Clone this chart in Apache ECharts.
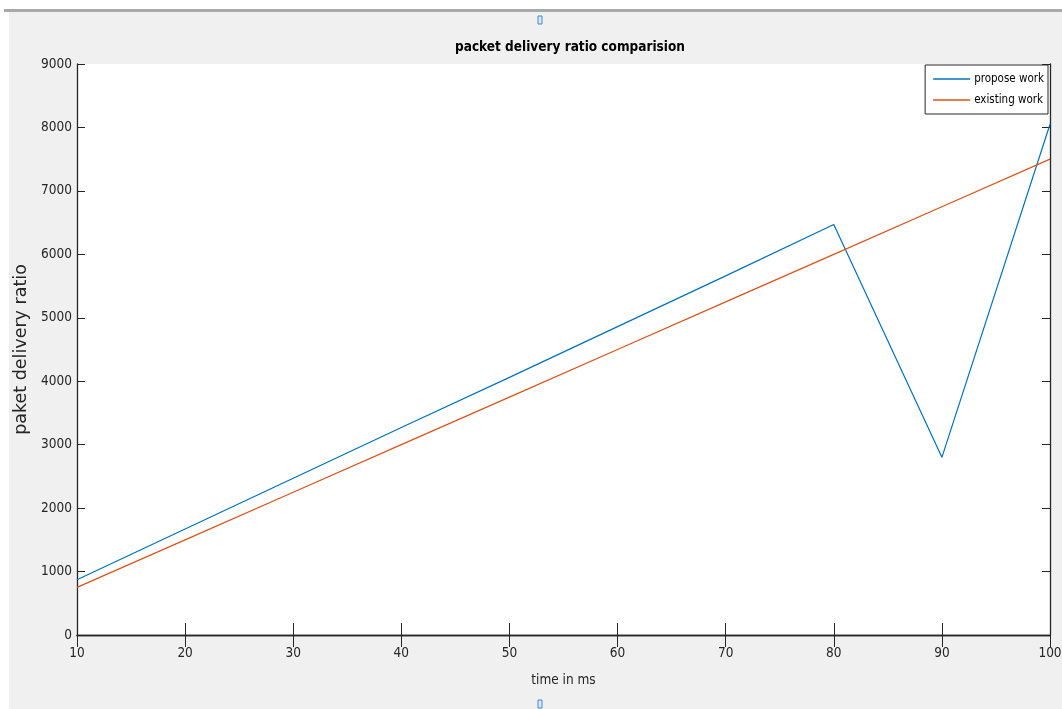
<!DOCTYPE html>
<html>
<head>
<meta charset="utf-8">
<script src="https://cdn.jsdelivr.net/npm/echarts@6/dist/echarts.min.js"></script>
<style>
	html, body { margin: 0; padding: 0; background: #fff; }
	#chart { width: 1062px; height: 709px; }
</style>
</head>
<body>
<div id="chart"></div>
<script>
	// time in ms
	var timeMs = [10, 20, 30, 40, 50, 60, 70, 80, 90, 100];
	/* propose work */
	var proposeWork = [870, 1670, 2470, 3270, 4060, 4860, 5660, 6470, 2800, 8050];
	/* existing work */
	var existingWork = [750, 1500, 2250, 3000, 3750, 4500, 5250, 6000, 6750, 7500];

	var cond = '"DejaVu Sans Condensed", "Liberation Sans Narrow", "Liberation Sans", sans-serif';
	var axisColor = '#262626';

	function pairs(ys) {
		return timeMs.map(function(x, i) { return [x, ys[i]]; });
	}

	var chart = echarts.init(document.getElementById('chart'));
	var option = {
		backgroundColor: '#fff',
		animation: false,
		graphic: [
			{ type: 'rect', z: -10, shape: { x: 9, y: 12, width: 1053, height: 697 }, style: { fill: '#f0f0f0' } },
			{ type: 'rect', z: -9, shape: { x: 4, y: 9, width: 1058, height: 3 }, style: { fill: '#a9a9a9' } },
			{ type: 'rect', shape: { x: 538, y: 16, width: 4, height: 8 }, style: { fill: '#dbe9f7', stroke: '#3c8ad6', lineWidth: 1 } },
			{ type: 'rect', shape: { x: 538, y: 700, width: 4, height: 8 }, style: { fill: '#dbe9f7', stroke: '#3c8ad6', lineWidth: 1 } }
		],
		title: {
			text: 'packet delivery ratio comparision',
			left: 565,
			textAlign: 'center',
			top: 35,
			textStyle: { fontFamily: cond, fontSize: 13.5, fontWeight: 'bold', color: '#000' }
		},
		legend: {
			orient: 'vertical',
			right: 14,
			top: 65,
			padding: [8, 4, 8, 8],
			itemGap: 9,
			itemWidth: 37,
			itemHeight: 1.5,
			icon: 'rect',
			backgroundColor: '#fff',
			borderColor: '#262626',
			borderWidth: 1,
			textStyle: { fontFamily: cond, fontSize: 11.5, color: '#000', padding: [0, 0, 0, -1] },
			data: ['propose work', 'existing work']
		},
		grid: { left: 77, right: 12, top: 64, bottom: 74, outerBoundsMode: 'none', containLabel: false, show: true, backgroundColor: '#fff', borderWidth: 0 },
		xAxis: [{
			type: 'value',
			min: 10, max: 100, interval: 10,
			name: 'time in ms',
			nameLocation: 'middle',
			nameGap: 38,
			nameTextStyle: { fontFamily: cond, fontSize: 13.5, color: axisColor },
			axisLine: { lineStyle: { color: axisColor, width: 1.3 } },
			axisTick: { inside: true, length: 12, lineStyle: { color: axisColor } },
			axisLabel: { fontFamily: cond, fontSize: 13.5, color: axisColor, margin: 11 },
			splitLine: { show: false }
		}, {
			type: 'value', position: 'top',
			min: 10, max: 100, interval: 10,
			axisLine: { show: true, lineStyle: { color: axisColor, width: 1.3 } },
			axisTick: { inside: true, length: 12, lineStyle: { color: axisColor } },
			axisLabel: { show: false },
			splitLine: { show: false }
		}],
		yAxis: [{
			type: 'value',
			min: 0, max: 9000, interval: 1000,
			name: 'paket delivery ratio',
			nameLocation: 'middle',
			nameGap: 47,
			nameTextStyle: { fontFamily: '"DejaVu Sans", sans-serif', fontSize: 17.5, color: axisColor },
			axisLine: { show: true, lineStyle: { color: axisColor, width: 1.3 } },
			axisTick: { show: true, inside: true, length: 8, lineStyle: { color: axisColor } },
			axisLabel: {
				fontFamily: cond, fontSize: 13.5, color: axisColor, margin: 5,
				formatter: function(v) { return String(v); }
			},
			splitLine: { show: false }
		}, {
			type: 'value', position: 'right',
			min: 0, max: 9000, interval: 1000,
			axisLine: { show: true, lineStyle: { color: axisColor, width: 1.3 } },
			axisTick: { show: true, inside: true, length: 8, lineStyle: { color: axisColor } },
			axisLabel: { show: false },
			splitLine: { show: false }
		}],
		series: [{
			name: 'propose work',
			type: 'line',
			symbol: 'none',
			color: '#0072BD',
			lineStyle: { width: 1.2 },
			data: pairs(proposeWork)
		}, {
			name: 'existing work',
			type: 'line',
			symbol: 'none',
			color: '#D95319',
			lineStyle: { width: 1.2 },
			data: pairs(existingWork)
		}]
	};
	chart.setOption(option);
</script>
</body>
</html>
